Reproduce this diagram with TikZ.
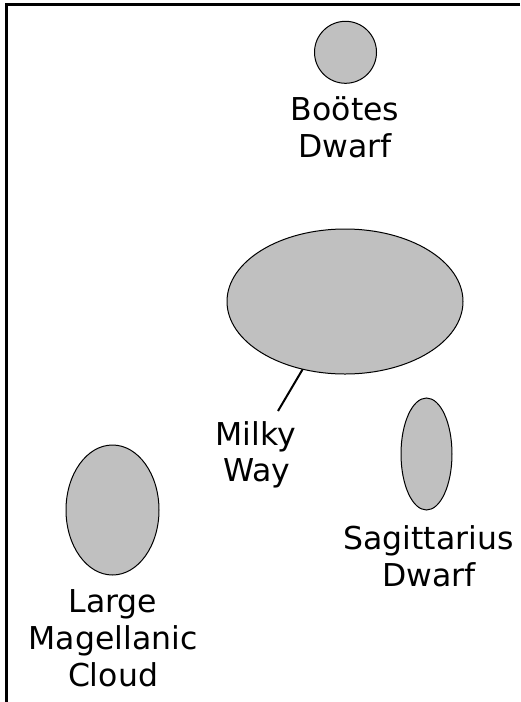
\documentclass[tikz,border=0pt]{standalone}
\usepackage{fontspec}
\setmainfont{DejaVu Sans}
\usetikzlibrary{shapes.geometric}
\definecolor{galgray}{RGB}{192,192,192}
\begin{document}
\begin{tikzpicture}[x=1pt,y=-1pt,
  galaxy/.style={ellipse,draw=black,line width=1pt,fill=galgray,inner sep=0pt,outer sep=0pt},
  lbl/.style={anchor=base,inner sep=0pt,font=\fontsize{31.5}{37}\selectfont},
  frame/.style={line width=2.5pt,black},
  leader/.style={line width=2pt,black}]
\useasboundingbox (0,0) rectangle (520,702);
\draw[frame] (520,4.5) -- (6.7,4.5) -- (6.7,702);
% galaxies
\node[galaxy,minimum width=62pt,minimum height=62pt] (bootes) at (345.5,52.3) {};
\node[galaxy,minimum width=236pt,minimum height=145pt] (mw) at (345,301.5) {};
\node[galaxy,minimum width=51pt,minimum height=112pt] (sag) at (426.5,454) {};
\node[galaxy,minimum width=93pt,minimum height=130pt] (lmc) at (112.5,510) {};
% labels
\node[lbl] (bootesA) at (345,120.7) {Boötes};
\node[lbl] (bootesB) at (345,157.5) {Dwarf};
\node[lbl] (milky) at (256,445.7) {Milky};
\node[lbl] (way) at (257,481) {Way};
\node[lbl] (sagA) at (428.5,549.3) {Sagittarius};
\node[lbl] (sagB) at (429,586.5) {Dwarf};
\node[lbl] (lmcA) at (113,612.3) {Large};
\node[lbl] (lmcB) at (113,649) {Magellanic};
\node[lbl] (lmcC) at (113,686) {Cloud};
% leader
\coordinate (mwend) at (278,411);
\draw[leader] (mw.238.5) -- (mwend);
\end{tikzpicture}
\end{document}
